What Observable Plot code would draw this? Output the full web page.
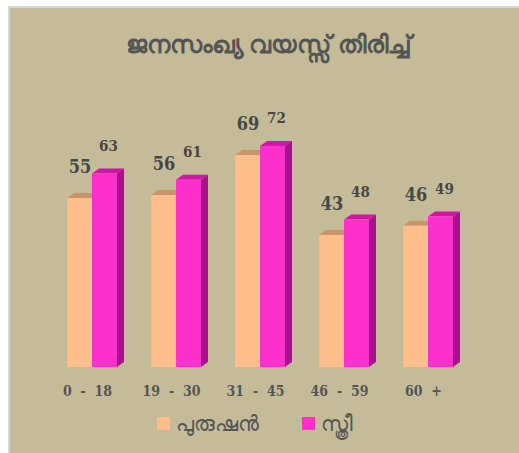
<!DOCTYPE html>
<html>
<head>
<meta charset="utf-8">
<script src="https://cdn.jsdelivr.net/npm/d3@7"></script>
<script src="https://cdn.jsdelivr.net/npm/@observablehq/plot@0.6"></script>
<style>
  html, body { margin: 0; padding: 0; background: #ffffff; }
  body { width: 519px; height: 453px; position: relative; overflow: hidden; font-family: "Noto Sans", "DejaVu Sans", sans-serif; }
  #panel { position: absolute; left: 8px; top: 6px; width: 511px; height: 447px; background: #c4bc98; border-left: 2px solid #d6d6d6; border-top: 2px solid #d6d6d6; box-sizing: border-box; }
  #chart { position: absolute; left: 0; top: 0; }
  #title { position: absolute; left: 0; top: 27px; width: 537px; text-align: center; font-size: 25px; font-weight: bold; color: #555555; line-height: 32px; }
  #legend { position: absolute; left: 0; top: 408px; width: 519px; height: 30px; color: #555555; font-size: 21px; }
  .item { position: absolute; top: 0; display: flex; align-items: center; height: 30px; }
  .sw { width: 13px; height: 13px; margin-right: 6px; }
</style>
</head>
<body>
<div id="panel"></div>
<div id="chart"></div>
<div id="title"></div>
<div id="legend"></div>
<script>
// ---- data ----
const titleText = "ജനസംഖ്യ വയസ്സ് തിരിച്ച്";
const categories = ["0 - 18", "19 - 30", "31 - 45", "46 - 59", "60 +"];
const seriesNames = ["പുരുഷൻ", "സ്ത്രീ"];
const maleValues = [55, 56, 69, 43, 46];
const femaleValues = [63, 61, 72, 48, 49];

// ---- styles ----
const maleFront = "#fcbf8b", maleTop = "#c99468";
const femaleFront = "#fd30cb", femaleTop = "#cf17a6", femaleSide = "#a9128c";
const labelFont = "'DejaVu Serif Condensed', 'DejaVu Serif', serif";

const maleRows = categories.map((c, i) => ({category: c, value: maleValues[i]}));
const femaleRows = categories.map((c, i) => ({category: c, value: femaleValues[i]}));

const DX = 7, DY = 5;
function faces(values, half, topColor, sideColor) {
  return (index, scales) => {
    const sx = scales.x, sy = scales.y;
    const bw = typeof sx.bandwidth === "function" ? sx.bandwidth() : 50;
    const g = d3.create("svg:g");
    categories.forEach((c, i) => {
      const x0 = sx(c) + half * bw / 2, x1 = x0 + bw / 2;
      const yt = sy(values[i]), yb = sy(0);
      g.append("polygon")
        .attr("points", [[x0, yt], [x1, yt], [x1 + DX, yt - DY], [x0 + DX, yt - DY]].join(" "))
        .attr("fill", topColor);
      if (sideColor) {
        g.append("polygon")
          .attr("points", [[x1, yt], [x1 + DX, yt - DY], [x1 + DX, yb - DY], [x1, yb]].join(" "))
          .attr("fill", sideColor);
      }
    });
    return g.node();
  };
}

const plot = Plot.plot({
  width: 519,
  height: 410,
  marginTop: 0,
  marginBottom: 43,
  marginLeft: 0,
  marginRight: 0,
  style: {background: "transparent", overflow: "visible"},
  x: {domain: categories, range: [50, 470], paddingInner: 0.405, paddingOuter: 0.2025, label: null},
  y: {domain: [0, 119.5], axis: null},
  marks: [
    faces(maleValues, 0, maleTop, null),
    Plot.barY(maleRows, {x: "category", y: "value", fill: maleFront, insetRight: 25}),
    faces(femaleValues, 1, femaleTop, femaleSide),
    Plot.barY(femaleRows, {x: "category", y: "value", fill: femaleFront, insetLeft: 25}),
    Plot.text(maleRows, {x: "category", y: "value", text: d => String(d.value), dx: -12.5, dy: -31,
      fontSize: 18, fontWeight: "bold", fontFamily: labelFont, fill: "#474747"}),
    Plot.text(femaleRows, {x: "category", y: "value", text: d => String(d.value), dx: 16, dy: -28,
      fontSize: 15, fontWeight: "bold", fontFamily: labelFont, fill: "#474747"}),
    Plot.axisX({tickSize: 0, tickPadding: 19, dx: -5, fontSize: 14, fontWeight: "bold", label: null,
      fontFamily: labelFont, color: "#555555",
      tickFormat: d => d.replace(/ /g, "\u00a0\u00a0")})
  ]
});
document.getElementById("chart").appendChild(plot);

document.getElementById("title").textContent = titleText;

const legend = document.getElementById("legend");
const legendColors = [maleFront, femaleFront];
const legendLeft = [157, 302];
seriesNames.forEach((name, i) => {
  const item = document.createElement("div");
  item.className = "item";
  item.style.left = legendLeft[i] + "px";
  const sw = document.createElement("span");
  sw.className = "sw";
  sw.style.background = legendColors[i];
  const t = document.createElement("span");
  t.textContent = name;
  item.appendChild(sw);
  item.appendChild(t);
  legend.appendChild(item);
});
</script>
</body>
</html>
